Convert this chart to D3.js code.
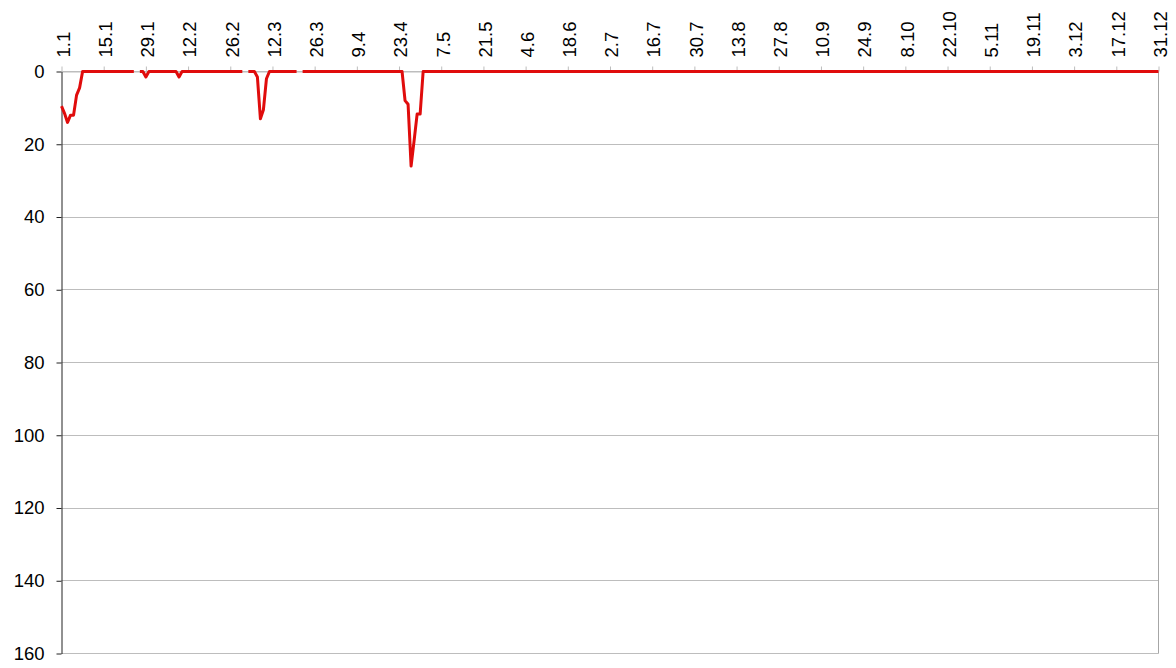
<!DOCTYPE html>
<html>
<head>
<meta charset="utf-8">
<script src="https://cdn.jsdelivr.net/npm/d3@7"></script>
<style>
  body { margin: 0; background: #fff; }
  svg { display: block; font-family: "Liberation Sans", Arial, sans-serif; }
</style>
</head>
<body>
<svg id="chart" width="1176" height="668"></svg>
<script>
// tick labels along the top (every 14 days)
const tickLabels = ["1.1", "15.1", "29.1", "12.2", "26.2", "12.3", "26.3", "9.4", "23.4", "7.5",
  "21.5", "4.6", "18.6", "2.7", "16.7", "30.7", "13.8", "27.8", "10.9", "24.9", "8.10",
  "22.10", "5.11", "19.11", "3.12", "17.12", "31.12"];

// days (0 = 1.1) where the value is not 0
const dipDays   = [0, 1, 2, 3, 4, 5, 6, 28, 39, 65, 66, 67, 68, 114, 115, 116, 117, 118, 119];
const dipValues = [9.5, 11.5, 14, 12, 12, 6.5, 4.5, 1.5, 1.5, 1.5, 13, 10.5, 2, 8, 9, 26, 19, 11.7, 11.7];
// days with no data (gaps in the line)
const missingDays = [25, 61, 79];
const yTicks = [0, 20, 40, 60, 80, 100, 120, 140, 160];

const days = d3.timeDay.range(new Date(2023, 0, 1), new Date(2024, 0, 1));
const fmt = d3.timeFormat("%-d.%-m");
const series = days.map((d, i) => {
  if (missingDays.includes(i)) return {date: d, value: null};
  const k = dipDays.indexOf(i);
  return {date: d, value: k >= 0 ? dipValues[k] : 0};
});

const svg = d3.select("#chart");
const plotLeft = 61.5, plotRight = 1158.5, plotTop = 71.5, plotBottom = 653.5;

const x = d3.scaleTime().domain([days[0], days[days.length - 1]]).range([plotLeft, plotRight]);
const y = d3.scaleLinear().domain([0, 160]).range([plotTop, plotBottom]);

// gridlines
svg.append("g")
  .selectAll("line")
  .data(yTicks)
  .join("line")
  .attr("x1", plotLeft).attr("x2", plotRight)
  .attr("y1", d => Math.floor(y(d)) + 0.5).attr("y2", d => Math.floor(y(d)) + 0.5)
  .attr("stroke", "#bdbdbd");

// right border
svg.append("line")
  .attr("x1", plotRight).attr("x2", plotRight)
  .attr("y1", plotTop).attr("y2", plotBottom)
  .attr("stroke", "#a6a6a6");

// x axis on top
const tickDates = days.filter(d => tickLabels.includes(fmt(d)));
const xAxis = svg.append("g")
  .attr("transform", `translate(0,${plotTop})`)
  .call(d3.axisTop(x).tickValues(tickDates).tickFormat(fmt).tickSize(5).tickSizeOuter(0));
xAxis.select(".domain").attr("stroke", "#bdbdbd");
xAxis.selectAll(".tick line").attr("stroke", "#bdbdbd");
xAxis.selectAll(".tick text")
  .attr("font-size", 18.5)
  .attr("fill", "#000")
  .attr("font-family", null)
  .attr("transform", "rotate(-90)")
  .attr("text-anchor", "start")
  .attr("x", 14)
  .attr("y", 0)
  .attr("dy", "0.42em");

// y axis on the left
const yAxis = svg.append("g")
  .attr("transform", `translate(${plotLeft},0)`)
  .call(d3.axisLeft(y).tickValues(yTicks).tickSize(5).tickSizeOuter(0));
yAxis.select(".domain").attr("stroke", "#222");
yAxis.selectAll(".tick line").attr("stroke", "#222");
yAxis.selectAll(".tick text")
  .attr("font-size", 18.5)
  .attr("fill", "#000")
  .attr("font-family", null)
  .attr("x", -17);

// the series
const line = d3.line()
  .defined(d => d.value !== null)
  .x(d => x(d.date))
  .y(d => y(d.value));

svg.append("path")
  .datum(series)
  .attr("fill", "none")
  .attr("stroke", "#e00c0c")
  .attr("stroke-width", 3)
  .attr("stroke-linejoin", "round")
  .attr("d", line);
</script>
</body>
</html>
